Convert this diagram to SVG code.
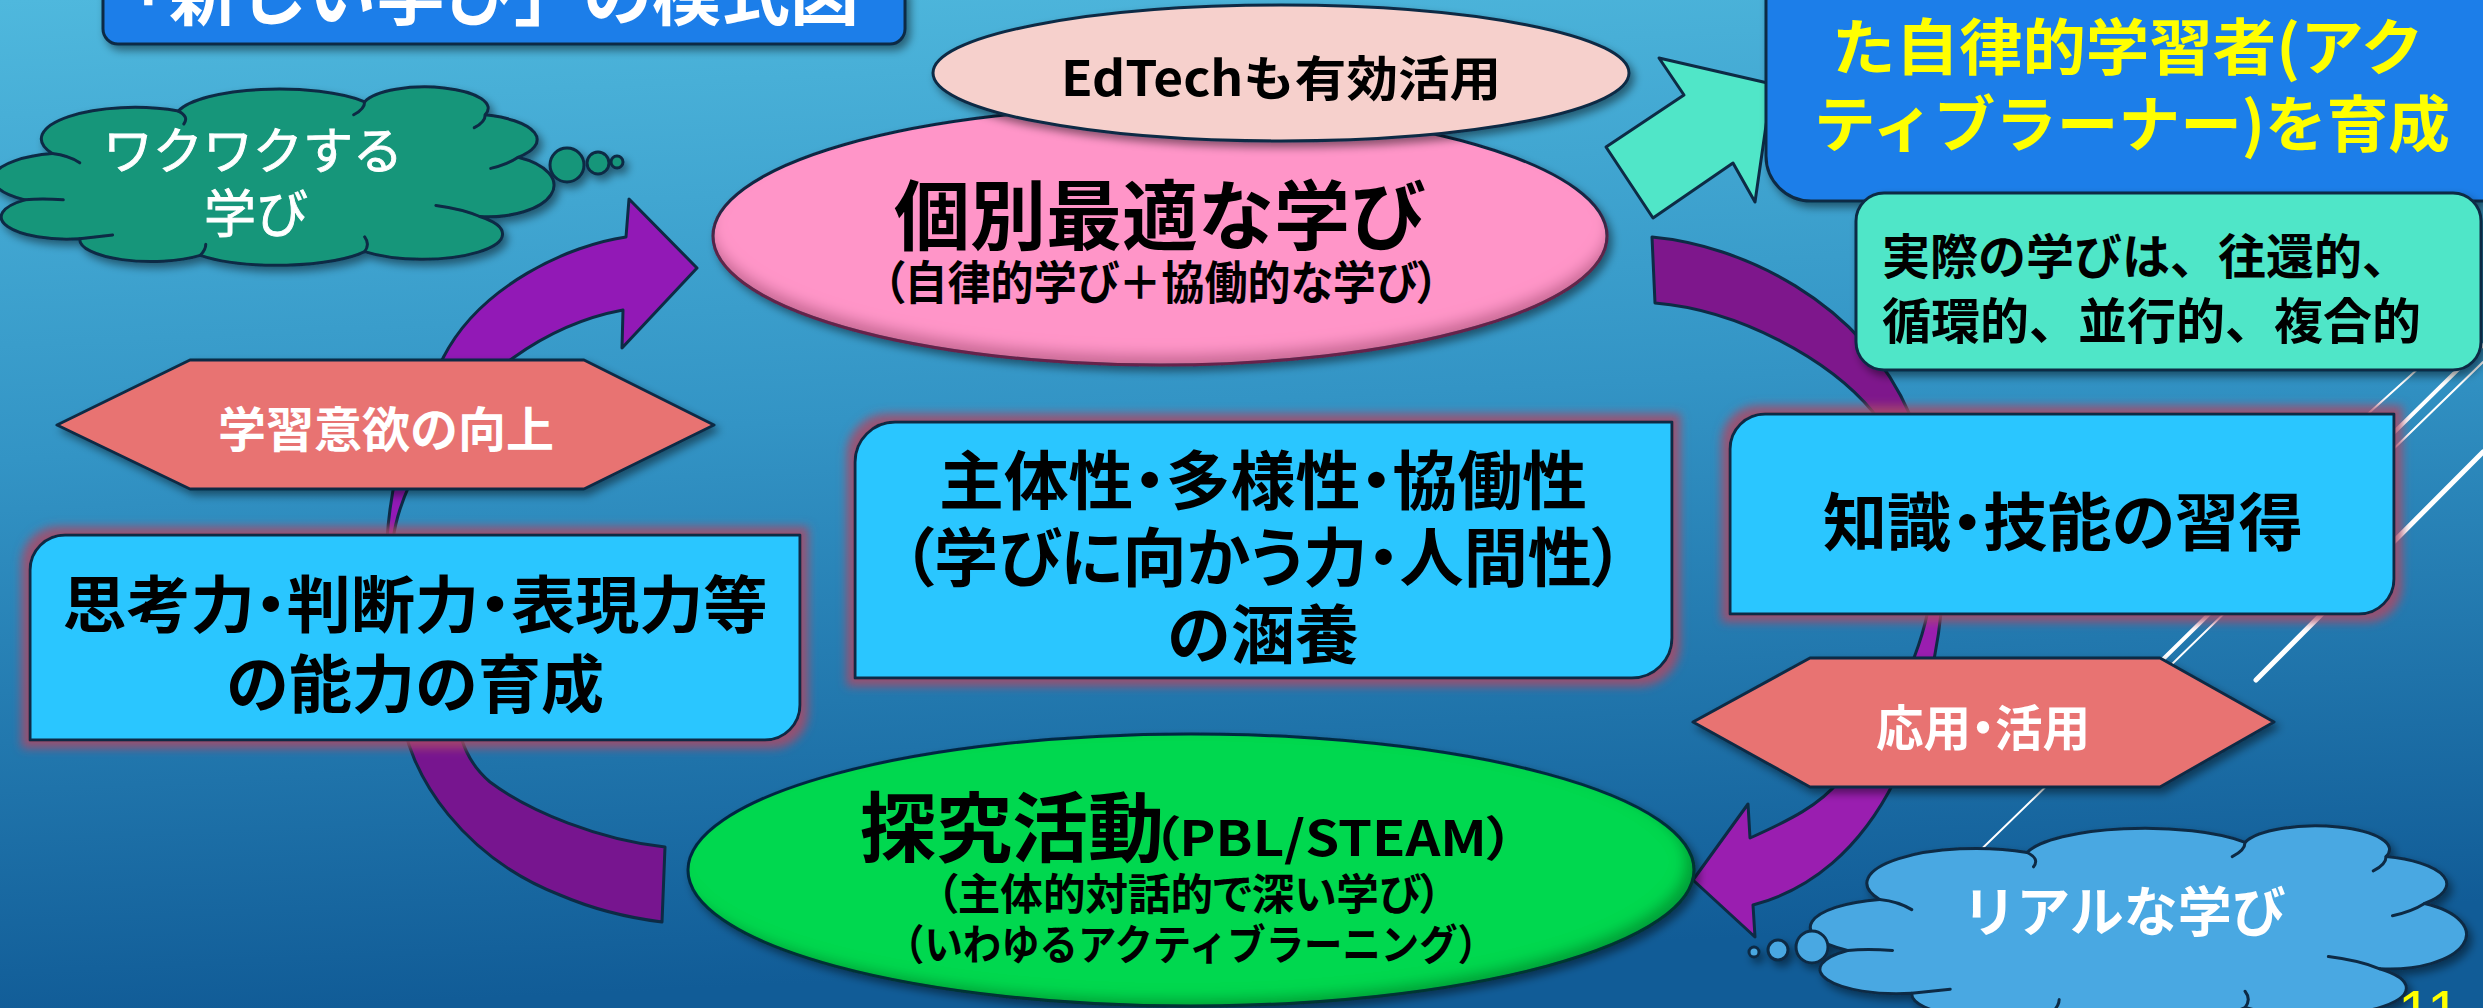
<svg xmlns="http://www.w3.org/2000/svg" width="2483" height="1008" viewBox="0 0 2483 1008">
<defs>
  <linearGradient id="bg" x1="0" y1="0" x2="0.12" y2="1">
    <stop offset="0" stop-color="#4fb8dd"/>
    <stop offset="0.45" stop-color="#3394c5"/>
    <stop offset="1" stop-color="#115c97"/>
  </linearGradient>
  <filter id="shadow" x="-10%" y="-20%" width="125%" height="150%">
    <feDropShadow dx="4" dy="5" stdDeviation="4" flood-color="#000" flood-opacity="0.45"/>
  </filter>
  <filter id="glow" x="-10%" y="-20%" width="120%" height="140%">
    <feMorphology in="SourceAlpha" operator="dilate" radius="7" result="d"/>
    <feGaussianBlur in="d" stdDeviation="5" result="b"/>
    <feFlood flood-color="#a84a68" flood-opacity="0.85"/>
    <feComposite in2="b" operator="in" result="g"/>
    <feMerge><feMergeNode in="g"/><feMergeNode in="SourceGraphic"/></feMerge>
  </filter>
  <filter id="innerPink" x="-5%" y="-10%" width="115%" height="130%">
    <feComponentTransfer in="SourceAlpha" result="inv"><feFuncA type="table" tableValues="1 0"/></feComponentTransfer>
    <feOffset in="inv" dx="0" dy="-12" result="off"/>
    <feGaussianBlur in="off" stdDeviation="7" result="bl"/>
    <feComposite in="bl" in2="SourceAlpha" operator="in" result="inner"/>
    <feFlood flood-color="#8a2050" flood-opacity="0.55"/>
    <feComposite in2="inner" operator="in" result="innerC"/>
    <feGaussianBlur in="SourceAlpha" stdDeviation="4" result="sb"/>
    <feOffset in="sb" dx="4" dy="5" result="so"/>
    <feFlood flood-color="#000" flood-opacity="0.45"/>
    <feComposite in2="so" operator="in" result="sh"/>
    <feMerge><feMergeNode in="sh"/><feMergeNode in="SourceGraphic"/><feMergeNode in="innerC"/></feMerge>
  </filter>
  <filter id="innerGreen" x="-5%" y="-10%" width="115%" height="130%">
    <feComponentTransfer in="SourceAlpha" result="inv"><feFuncA type="table" tableValues="1 0"/></feComponentTransfer>
    <feOffset in="inv" dx="-10" dy="-8" result="off"/>
    <feGaussianBlur in="off" stdDeviation="7" result="bl"/>
    <feComposite in="bl" in2="SourceAlpha" operator="in" result="inner"/>
    <feFlood flood-color="#00400f" flood-opacity="0.55"/>
    <feComposite in2="inner" operator="in" result="innerC"/>
    <feGaussianBlur in="SourceAlpha" stdDeviation="4" result="sb"/>
    <feOffset in="sb" dx="4" dy="5" result="so"/>
    <feFlood flood-color="#000" flood-opacity="0.45"/>
    <feComposite in2="so" operator="in" result="sh"/>
    <feMerge><feMergeNode in="sh"/><feMergeNode in="SourceGraphic"/><feMergeNode in="innerC"/></feMerge>
  </filter>
  <style>
    .ol{stroke:#0d2b45;stroke-width:3;stroke-linejoin:round}
    .cl{stroke:#0d2b45;stroke-width:3;stroke-linejoin:round;vector-effect:non-scaling-stroke}
    .crease{fill:none;stroke:#0d2b45;stroke-width:3;stroke-linecap:round;vector-effect:non-scaling-stroke}
    .cyan{fill:#29c6ff}
    .hex{fill:#e87372}
    .blue{fill:#1a7ee9}
    .deco{stroke:#ffffff;stroke-linecap:round;fill:none}
    text{font-family:"Noto Sans CJK JP","Noto Sans",sans-serif}
    .b{font-weight:700}
    .c{text-anchor:middle}
    .palt{font-feature-settings:"palt" 1}
    .w{fill:#ffffff}
    .med{stroke:#ffffff;stroke-width:0.9}
    .k{fill:#000000}
    .y{fill:#ffff00}
    .num{font-family:"Liberation Sans",Arial,sans-serif;fill:#ffff00}
  </style>
</defs>

<rect x="0" y="0" width="2483" height="1008" fill="url(#bg)"/>

<g id="background-lines">
  <line class="deco" x1="1960" y1="870" x2="2483" y2="362" stroke-width="2"/>
  <line class="deco" x1="2150" y1="672" x2="2483" y2="345" stroke-width="4"/>
  <line class="deco" x1="2256" y1="680" x2="2483" y2="452" stroke-width="5"/>
  <line class="deco" x1="2330" y1="448" x2="2440" y2="349" stroke-width="2"/>
</g>

<g id="connectors">
  <path id="arrow-to-individual" class="ol" fill="#9219b6" d="M 697,268 L 629,199 L 626,237 C 570,245 480,285 443,358 C 415,410 392,460 387,540 L 384,570 L 393,540 C 398,500 430,420 513,358 C 545,335 580,318 623,310 L 622,348 Z"/>
  <path id="arc-individual-to-knowledge" class="ol" fill="#7e178c" d="M 1652,237 C 1740,245 1860,300 1910,415 C 1925,450 1935,500 1938,570 C 1925,500 1900,450 1873,412 C 1830,360 1740,310 1655,303 Z"/>
  <path id="arrow-to-inquiry" class="ol" fill="#9a1eb0" d="M 1693,880 L 1748,804 L 1750,838 C 1790,820 1820,805 1840,780 C 1885,730 1920,660 1930,600 L 1942,540 C 1948,610 1932,700 1895,780 C 1860,850 1810,890 1753,905 L 1755,937 Z"/>
  <path id="arc-thinking-to-inquiry" class="ol" fill="#77158f" d="M 400,700 C 405,780 470,860 560,895 C 595,910 630,918 662,922 L 665,847 C 600,840 530,812 490,782 C 470,765 460,745 452,700 Z"/>
  <polygon id="arrow-to-learner" class="ol" fill="#50e6c8" points="1659,58 1772,84 1755,202 1733,163 1653,218 1606,147 1684,95"/>
</g>

<g id="title">
  <path class="ol blue" filter="url(#shadow)" d="M 103,-10 L 905,-10 L 905,29 A 15,15 0 0 1 890,44 L 118,44 A 15,15 0 0 1 103,29 Z"/>
  <text x="100" y="20" font-size="69" class="w b">「新しい学び」の模式図</text>
</g>

<g id="learner-box">
  <path class="ol blue" filter="url(#shadow)" d="M 1766,-10 L 2500,-10 L 2500,201 L 1811,201 A 45,45 0 0 1 1766,156 Z"/>
  <text x="2128" y="70" font-size="61" class="y b c" textLength="592" lengthAdjust="spacingAndGlyphs">た自律的学習者(アク</text>
  <text x="2132" y="147" font-size="61" class="y b c" textLength="636" lengthAdjust="spacingAndGlyphs">ティブラーナー)を育成</text>
</g>

<g id="real-learning-note">
  <rect class="ol" fill="#50e6c8" filter="url(#shadow)" x="1856" y="193" width="625" height="177" rx="28"/>
  <text x="1882" y="274" font-size="48" class="k b">実際の学びは、往還的、</text>
  <text x="1882" y="339" font-size="49" class="k b">循環的、並行的、複合的</text>
</g>

<g id="cloud-exciting" filter="url(#shadow)">
  <g transform="translate(3,87) scale(5.48,1.85)">
    <path class="cl" fill="#16967a" d="M 9,36 A 17,17 0 0 1 32,13 A 19,16 0 0 1 66,8 A 11,11 0 0 1 88,15 A 13,14 0 0 1 94,38 A 12,17 0 0 1 87,70 A 14,13 0 0 1 66,89 A 18,14 0 0 1 36,91 A 13,12 0 0 1 14,82 A 12,12 0 0 1 4,61 A 14,14 0 0 1 9,36 Z"/>
    <path class="crease" d="M 9,36 Q 12,37 14,41 M 32,13 Q 34,16 33,20 M 66,8 Q 66,12 64,15 M 88,15 Q 88,19 86,22 M 94,38 Q 92,42 89,44 M 87,70 Q 84,66 79,64 M 66,89 Q 67,85 66,81 M 36,91 Q 37,88 37,85 M 14,82 Q 17,81 20,80 M 4,61 Q 7,60 11,61"/>
  </g>
  <circle class="ol" fill="#16967a" cx="567" cy="165" r="17"/>
  <circle class="ol" fill="#16967a" cx="598" cy="163" r="11"/>
  <circle class="ol" fill="#16967a" cx="617" cy="162" r="6"/>
  <text x="253" y="169" font-size="50" class="w med c">ワクワクする</text>
  <text x="256" y="233" font-size="52" class="w med c">学び</text>
</g>

<g id="individual-learning">
  <ellipse class="ol" fill="#ff95c8" filter="url(#innerPink)" cx="1160" cy="236" rx="447" ry="129"/>
  <text x="1160" y="244" font-size="76" class="k b c">個別最適な学び</text>
  <text x="1161" y="299" font-size="46" class="k b c palt" textLength="556" lengthAdjust="spacingAndGlyphs">（自律的学び＋協働的な学び）</text>
</g>

<g id="edtech">
  <ellipse class="ol" fill="#f6d0cc" filter="url(#shadow)" cx="1281" cy="73" rx="348" ry="68"/>
  <text x="1281" y="96" font-size="48" class="k b c" textLength="440" lengthAdjust="spacingAndGlyphs">EdTechも有効活用</text>
</g>

<g id="motivation">
  <polygon class="ol hex" filter="url(#shadow)" points="57,425 190,360 584,360 714,425 584,489 190,489"/>
  <text x="386" y="447" font-size="48" class="w b c">学習意欲の向上</text>
</g>

<g id="thinking">
  <path class="ol cyan" filter="url(#glow)" d="M 65,535 L 800,535 L 800,705 A 35,35 0 0 1 765,740 L 30,740 L 30,570 A 35,35 0 0 1 65,535 Z"/>
  <text x="415" y="628" font-size="62" class="k b c palt" textLength="705" lengthAdjust="spacingAndGlyphs">思考力・判断力・表現力等</text>
  <text x="415" y="707" font-size="63" class="k b c">の能力の育成</text>
</g>

<g id="humanity">
  <path class="ol cyan" filter="url(#glow)" d="M 895,422 L 1672,422 L 1672,638 A 40,40 0 0 1 1632,678 L 855,678 L 855,462 A 40,40 0 0 1 895,422 Z"/>
  <text x="1263" y="504" font-size="64" class="k b c palt" textLength="648" lengthAdjust="spacingAndGlyphs">主体性・多様性・協働性</text>
  <text x="1263" y="581" font-size="64" class="k b c palt" textLength="722" lengthAdjust="spacingAndGlyphs">（学びに向かう力・人間性）</text>
  <text x="1263" y="658" font-size="64" class="k b c">の涵養</text>
</g>

<g id="knowledge">
  <path class="ol cyan" filter="url(#glow)" d="M 1765,414 L 2394,414 L 2394,579 A 35,35 0 0 1 2359,614 L 1730,614 L 1730,449 A 35,35 0 0 1 1765,414 Z"/>
  <text x="2063" y="545" font-size="63" class="k b c palt" textLength="480" lengthAdjust="spacingAndGlyphs">知識・技能の習得</text>
</g>

<g id="application">
  <polygon class="ol hex" filter="url(#shadow)" points="1693,722 1810,658 2160,658 2274,722 2160,787 1810,787"/>
  <text x="1983" y="746" font-size="49" class="w b c palt" textLength="214" lengthAdjust="spacingAndGlyphs">応用・活用</text>
</g>

<g id="inquiry">
  <ellipse class="ol" fill="#00d84f" filter="url(#innerGreen)" cx="1191" cy="870" rx="503" ry="136"/>
  <text x="860" y="856" font-size="76" class="k b">探究活動</text>
  <text x="1152" y="856" font-size="48" class="k b palt" textLength="362" lengthAdjust="spacingAndGlyphs">（PBL/STEAM）</text>
  <text x="1189" y="910" font-size="43" class="k b c palt" textLength="505" lengthAdjust="spacingAndGlyphs">（主体的対話的で深い学び）</text>
  <text x="1191" y="960" font-size="42" class="k b c" textLength="610" lengthAdjust="spacingAndGlyphs">（いわゆるアクティブラーニング）</text>
</g>

<g id="cloud-real" filter="url(#shadow)">
  <g transform="translate(1822,826) scale(6.41,2.04)">
    <path class="cl" fill="#4aa8e2" d="M 9,36 A 17,17 0 0 1 32,13 A 19,16 0 0 1 66,8 A 11,11 0 0 1 88,15 A 13,14 0 0 1 94,38 A 12,17 0 0 1 87,70 A 14,13 0 0 1 66,89 A 18,14 0 0 1 36,91 A 13,12 0 0 1 14,82 A 12,12 0 0 1 4,61 A 14,14 0 0 1 9,36 Z"/>
    <path class="crease" d="M 9,36 Q 12,37 14,41 M 32,13 Q 34,16 33,20 M 66,8 Q 66,12 64,15 M 88,15 Q 88,19 86,22 M 94,38 Q 92,42 89,44 M 87,70 Q 84,66 79,64 M 66,89 Q 67,85 66,81 M 36,91 Q 37,88 37,85 M 14,82 Q 17,81 20,80 M 4,61 Q 7,60 11,61"/>
  </g>
  <circle class="ol" fill="#4aa8e2" cx="1812" cy="947" r="16"/>
  <circle class="ol" fill="#4aa8e2" cx="1778" cy="950" r="10"/>
  <circle class="ol" fill="#4aa8e2" cx="1754" cy="952" r="5"/>
  <text x="2124" y="932" font-size="54" class="w b c">リアルな学び</text>
</g>

<text x="2398" y="1032" font-size="60" class="num">11</text>
</svg>
